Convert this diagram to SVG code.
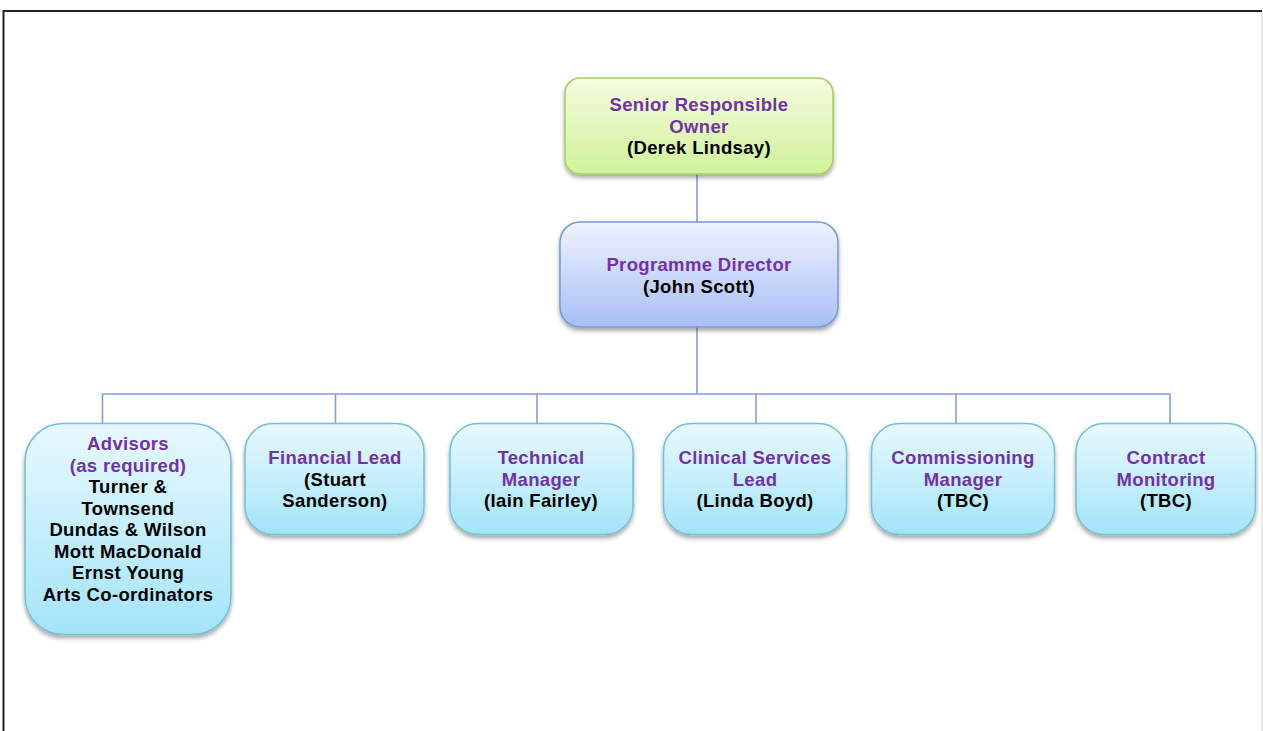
<svg xmlns="http://www.w3.org/2000/svg" width="1263" height="731" viewBox="0 0 1263 731">
  <defs>
    <linearGradient id="gGreen" x1="0" y1="0" x2="0" y2="1">
      <stop offset="0" stop-color="#f5fcdf"/>
      <stop offset="1" stop-color="#cff29a"/>
    </linearGradient>
    <linearGradient id="gBlue" x1="0" y1="0" x2="0" y2="1">
      <stop offset="0" stop-color="#eff3ff"/>
      <stop offset="1" stop-color="#a7bff5"/>
    </linearGradient>
    <linearGradient id="gCyan" x1="0" y1="0" x2="0" y2="1">
      <stop offset="0" stop-color="#e8f9fe"/>
      <stop offset="1" stop-color="#a3e4f8"/>
    </linearGradient>
    <filter id="shadow" x="-10%" y="-10%" width="120%" height="130%">
      <feDropShadow dx="0" dy="3" stdDeviation="2.2" flood-color="#000" flood-opacity="0.35"/>
    </filter>
  </defs>
  <style>
    .box { stroke-width: 1.5; filter: url(#shadow); }
    .green { fill: url(#gGreen); stroke: #a6cd66; }
    .blue { fill: url(#gBlue); stroke: #7898d5; }
    .cyan { fill: url(#gCyan); stroke: #72bfd6; }
    text { font-family: "Liberation Sans", Arial, sans-serif; font-size: 18.5px; font-weight: bold; letter-spacing: 0.35px; text-anchor: middle; }
    .role { fill: #7431a3; }
    .name { fill: #000; }
    .link { fill: none; stroke: #7f9fd8; stroke-width: 1.6; }
  </style>

  <rect width="1263" height="731" fill="#fff"/>
  <!-- page frame -->
  <line x1="3" y1="11" x2="1262" y2="11" stroke="#222" stroke-width="2"/>
  <line x1="3.5" y1="10" x2="3.5" y2="731" stroke="#222" stroke-width="2"/>
  <line x1="1262" y1="12" x2="1262" y2="731" stroke="#d0d0d0" stroke-width="1"/>

  <g id="connectors">
    <line class="link" x1="697" y1="174" x2="697" y2="222" stroke-width="2"/>
    <line class="link" x1="697" y1="327" x2="697" y2="394"/>
    <polyline class="link" points="102.5,423 102.5,394 1170,394 1170,423"/>
    <line class="link" x1="335.5" y1="394" x2="335.5" y2="423"/>
    <line class="link" x1="537" y1="394" x2="537" y2="423"/>
    <line class="link" x1="756" y1="394" x2="756" y2="423"/>
    <line class="link" x1="956" y1="394" x2="956" y2="423"/>
  </g>

  <g id="sro">
    <rect class="box green" x="565" y="78" width="268" height="96" rx="15"/>
    <text class="role" x="699" y="111">Senior Responsible</text>
    <text class="role" x="699" y="132.5">Owner</text>
    <text class="name" x="699" y="154">(Derek Lindsay)</text>
  </g>

  <g id="programme-director">
    <rect class="box blue" x="560" y="222" width="278" height="105" rx="20"/>
    <text class="role" x="699" y="271">Programme Director</text>
    <text class="name" x="699" y="292.5">(John Scott)</text>
  </g>

  <g id="advisors">
    <rect class="box cyan" x="25" y="423.5" width="206" height="211" rx="38"/>
    <text class="role" x="128" y="450">Advisors</text>
    <text class="role" x="128" y="471.5">(as required)</text>
    <text class="name" x="128" y="493">Turner &amp;</text>
    <text class="name" x="128" y="514.5">Townsend</text>
    <text class="name" x="128" y="536">Dundas &amp; Wilson</text>
    <text class="name" x="128" y="557.5">Mott MacDonald</text>
    <text class="name" x="128" y="579">Ernst Young</text>
    <text class="name" x="128" y="600.5">Arts Co-ordinators</text>
  </g>

  <g id="financial-lead">
    <rect class="box cyan" x="245" y="423.5" width="179" height="111" rx="28"/>
    <text class="role" x="335" y="464">Financial Lead</text>
    <text class="name" x="335" y="485.5">(Stuart</text>
    <text class="name" x="335" y="507">Sanderson)</text>
  </g>

  <g id="technical-manager">
    <rect class="box cyan" x="450" y="423.5" width="183" height="111" rx="28"/>
    <text class="role" x="541" y="464">Technical</text>
    <text class="role" x="541" y="485.5">Manager</text>
    <text class="name" x="541" y="507">(Iain Fairley)</text>
  </g>

  <g id="clinical-services-lead">
    <rect class="box cyan" x="663.5" y="423.5" width="183" height="111" rx="28"/>
    <text class="role" x="755" y="464">Clinical Services</text>
    <text class="role" x="755" y="485.5">Lead</text>
    <text class="name" x="755" y="507">(Linda Boyd)</text>
  </g>

  <g id="commissioning-manager">
    <rect class="box cyan" x="871.5" y="423.5" width="183" height="111" rx="28"/>
    <text class="role" x="963" y="464">Commissioning</text>
    <text class="role" x="963" y="485.5">Manager</text>
    <text class="name" x="963" y="507">(TBC)</text>
  </g>

  <g id="contract-monitoring">
    <rect class="box cyan" x="1076" y="423.5" width="179.5" height="111" rx="28"/>
    <text class="role" x="1166" y="464">Contract</text>
    <text class="role" x="1166" y="485.5">Monitoring</text>
    <text class="name" x="1166" y="507">(TBC)</text>
  </g>
</svg>
